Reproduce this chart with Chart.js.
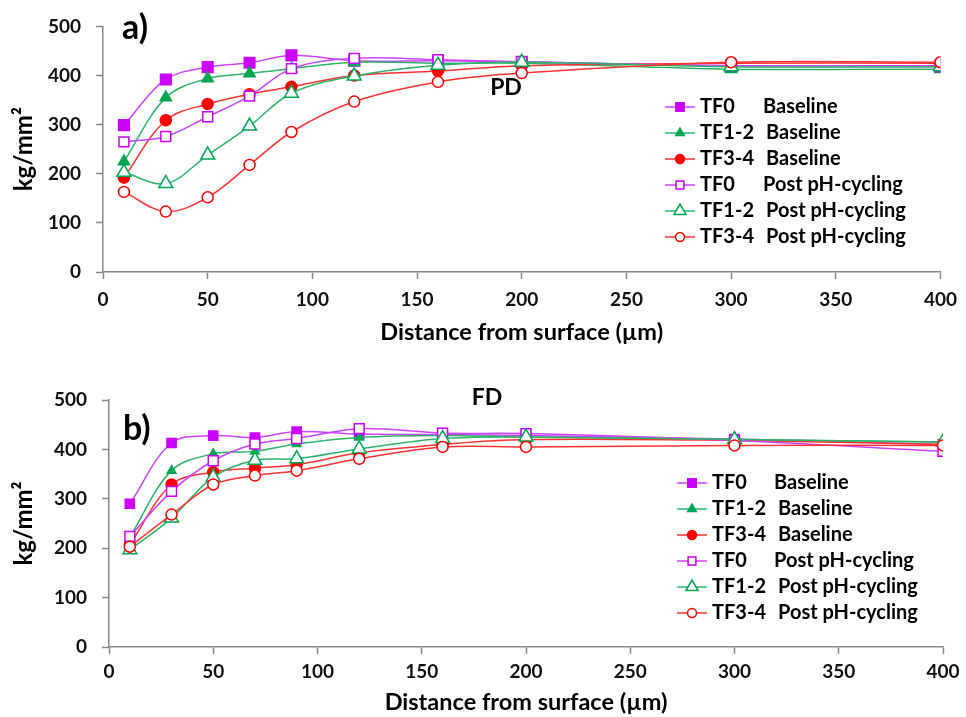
<!DOCTYPE html>
<html>
<head>
<meta charset="utf-8">
<script src="https://cdn.jsdelivr.net/npm/chart.js@4"></script>
<style>
  body { margin: 0; background: #fff; }
  canvas { display: block; }
</style>
</head>
<body>
<canvas id="pdChart" width="966" height="358"></canvas>
<canvas id="fdChart" width="966" height="359"></canvas>
<script>
// distance from surface (µm)
const distances = [10, 30, 50, 70, 90, 120, 160, 200, 300, 400];

const seriesNames = [
    ['TF0', 'Baseline'],
    ['TF1-2', 'Baseline'],
    ['TF3-4', 'Baseline'],
    ['TF0', 'Post pH-cycling'],
    ['TF1-2', 'Post pH-cycling'],
    ['TF3-4', 'Post pH-cycling'],
];

// PD hardness (kg/mm²)
const pdTf0Base = [299, 392, 417, 426, 441, 430, 430, 428, 420, 420];
const pdTf12Base = [225, 355, 394, 404, 414, 427, 425, 425, 413, 413];
const pdTf34Base = [192, 309, 342, 362, 377, 400, 409, 420, 425, 425];
const pdTf0Post = [265, 276, 316, 358, 414, 435, 432, 428, 420, 418];
const pdTf12Post = [203, 180, 238, 297, 364, 399, 421, 427, 418, 418];
const pdTf34Post = [163, 123, 152, 218, 285, 347, 387, 405, 427, 427];

// FD hardness (kg/mm²)
const fdTf0Base = [290, 413, 428, 424, 436, 431, 430, 428, 421, 410];
const fdTf12Base = [222, 357, 391, 396, 411, 424, 428, 425, 420, 415];
const fdTf34Base = [207, 329, 354, 362, 369, 393, 410, 420, 418, 410];
const fdTf0Post = [224, 315, 377, 411, 422, 442, 433, 432, 418, 396];
const fdTf12Post = [197, 261, 344, 378, 381, 401, 422, 425, 420, 415];
const fdTf34Post = [203, 268, 329, 347, 357, 381, 405, 405, 408, 408];

const FONT = 'Lato, "Open Sans", sans-serif';
const PURPLE = '#CC00FF';
const GREEN = '#00A651';
const RED = '#FF0000';

const STYLES = [
    { color: PURPLE, line: '#CC44FF', style: 'rect', filled: true, r: 7.5, lr: 6 },
    { color: GREEN, line: '#2EB36A', style: 'triangle', filled: true, r: 6.5, lr: 5 },
    { color: RED, line: '#FF3333', style: 'circle', filled: true, r: 5.5, lr: 4.5 },
    { color: PURPLE, line: '#CC44FF', style: 'rect', filled: false, r: 7, lr: 5.5 },
    { color: GREEN, line: '#2EB36A', style: 'triangle', filled: false, r: 8, lr: 7 },
    { color: RED, line: '#FF3333', style: 'circle', filled: false, r: 5.5, lr: 4.5 },
];

function buildDatasets(seriesList, small) {
    return seriesList.map((values, i) => {
        const s = STYLES[i];
        let r = s.r;
        if (small && i === 1) r = 5;
        if (small && i === 0) r = 6.5;
        return {
            label: seriesNames[i].join(' '),
            data: values.map((v, k) => ({ x: distances[k], y: v })),
            borderColor: s.line,
            borderWidth: 1.5,
            pointStyle: s.style,
            pointRadius: r,
            pointBorderWidth: 1.5,
            pointBorderColor: s.color,
            pointBackgroundColor: s.filled ? s.color : '#ffffff',
            tension: 0.35,
            order: 5 - i,
        };
    });
}

// legend + panel labels drawn on the canvas
const overlayPlugin = {
    id: 'overlay',
    afterDraw(chart, args, opts) {
        const ctx = chart.ctx;
        ctx.save();
        ctx.fillStyle = '#000';
        ctx.textBaseline = 'middle';

        ctx.font = 'bold 34px ' + FONT;
        ctx.textAlign = 'left';
        ctx.fillText(opts.panel, opts.panelX, opts.panelY);

        ctx.font = 'bold 23px ' + FONT;
        ctx.textAlign = 'center';
        ctx.fillText(opts.title, opts.titleX, opts.titleY);

        // legend
        ctx.font = 'bold 20px ' + FONT;
        ctx.textAlign = 'left';
        seriesNames.forEach((name, i) => {
            const s = STYLES[i];
            const y = opts.legendY + i * opts.legendGap;
            const x0 = opts.legendX;
            ctx.strokeStyle = s.line;
            ctx.lineWidth = 1.5;
            ctx.beginPath();
            ctx.moveTo(x0, y);
            ctx.lineTo(x0 + 30, y);
            ctx.stroke();
            ctx.fillStyle = s.filled ? s.color : '#ffffff';
            ctx.strokeStyle = s.color;
            Chart.helpers.drawPoint(ctx, {
                pointStyle: s.style, radius: s.lr, rotation: 0, borderWidth: 1.5,
            }, x0 + 15, y);
            ctx.fillStyle = '#000';
            ctx.fillText(name[0], x0 + 35, y);
            const off = name[0] === 'TF0' ? opts.col2a : opts.col2b;
            ctx.fillText(name[1], x0 + off, y);
        });
        ctx.restore();
    },
};

function makeChart(id, seriesList, cfg) {
    return new Chart(document.getElementById(id).getContext('2d'), {
        type: 'line',
        data: { datasets: buildDatasets(seriesList, cfg.small) },
        options: {
            responsive: false,
            animation: false,
            layout: { padding: { left: 0, right: cfg.padRight, top: cfg.padTop, bottom: 0 } },
            scales: {
                x: {
                    type: 'linear',
                    min: 0,
                    max: 400,
                    ticks: { stepSize: 50, color: '#111', font: { family: FONT, size: 19, weight: 'bold' }, padding: cfg.xTickPad, maxRotation: 0 },
                    grid: { drawOnChartArea: false, tickLength: 7, tickColor: '#888', tickWidth: 1.5 },
                    border: { color: '#888', width: 1.5 },
                    title: {
                        display: true,
                        text: 'Distance from surface (µm)',
                        color: '#000',
                        font: { family: FONT, size: 23.5, weight: 'bold' },
                        padding: { top: 0, bottom: cfg.xTitlePad },
                    },
                    afterFit(scale) { scale.height = cfg.xAxisH; },
                },
                y: {
                    min: 0,
                    max: 500,
                    ticks: { stepSize: 100, color: '#111', font: { family: FONT, size: 19, weight: 'bold' }, padding: 15 },
                    grid: { drawOnChartArea: false, tickLength: 7, tickColor: '#888', tickWidth: 1.5 },
                    border: { color: '#888', width: 1.5 },
                    title: {
                        display: true,
                        text: 'kg/mm²',
                        color: '#000',
                        font: { family: FONT, size: 24, weight: 'bold' },
                        padding: { top: 10, bottom: 0 },
                    },
                    afterFit(scale) { scale.width = cfg.yAxisW; },
                },
            },
            plugins: {
                legend: { display: false },
                tooltip: { enabled: false },
                overlay: cfg.overlay,
            },
        },
        plugins: [overlayPlugin],
    });
}

makeChart('pdChart',
    [pdTf0Base, pdTf12Base, pdTf34Base, pdTf0Post, pdTf12Post, pdTf34Post],
    {
        padRight: 22, padTop: 25, xAxisH: 86, yAxisW: 103, xTitlePad: 11, xTickPad: 9, small: false,
        overlay: {
            panel: 'a)', panelX: 122, panelY: 28, title: 'PD', titleX: 506, titleY: 88,
            legendX: 665, legendY: 107, legendGap: 26, col2a: 98, col2b: 101,
        },
    });

makeChart('fdChart',
    [fdTf0Base, fdTf12Base, fdTf34Base, fdTf0Post, fdTf12Post, fdTf34Post],
    {
        padRight: 23, padTop: 42, xAxisH: 70, yAxisW: 109, xTitlePad: 0, xTickPad: 6, small: true,
        overlay: {
            panel: 'b)', panelX: 123, panelY: 71, title: 'FD', titleX: 487, titleY: 40,
            legendX: 677, legendY: 125, legendGap: 26, col2a: 97, col2b: 101,
        },
    });
</script>
</body>
</html>
